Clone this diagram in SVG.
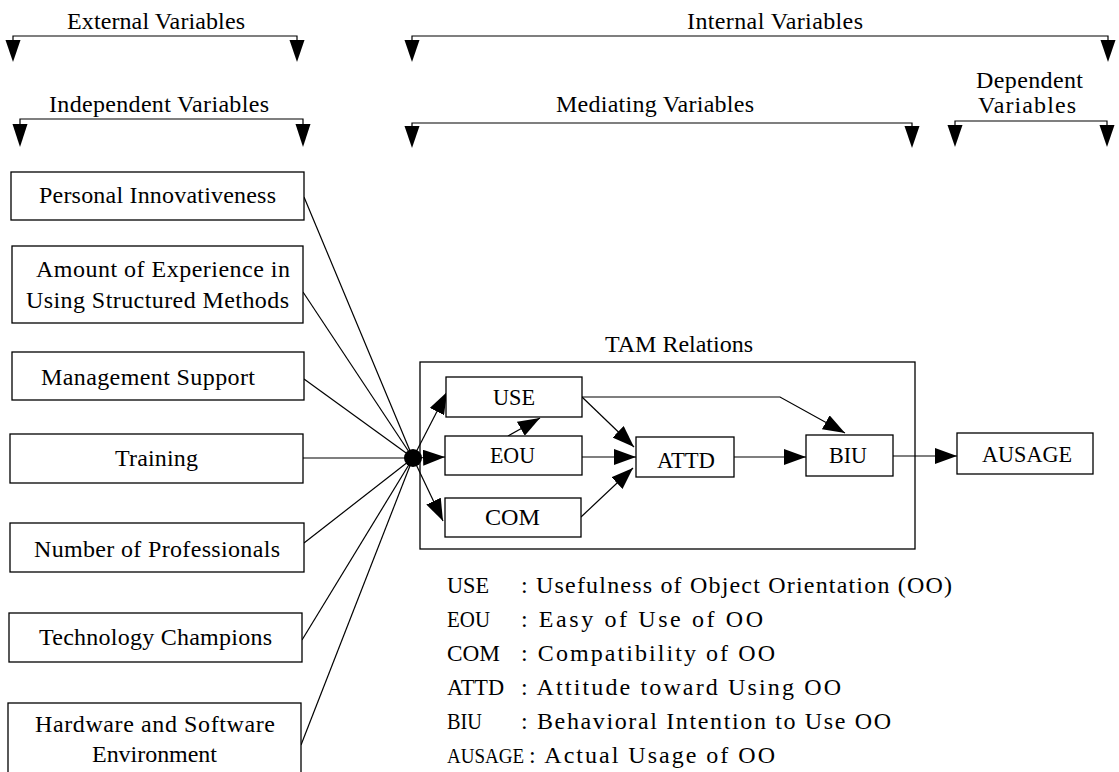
<svg xmlns="http://www.w3.org/2000/svg" width="1119" height="772" viewBox="0 0 1119 772">
<defs>
<style>
text{font-family:"Liberation Serif","Times New Roman",serif;font-size:24px;fill:#000}
.box{fill:#fff;stroke:#000;stroke-width:1.3}
.ln{fill:none;stroke:#000;stroke-width:1.2}
.ah{fill:#000}
</style>
<marker id="arr" markerUnits="userSpaceOnUse" markerWidth="22" markerHeight="16" refX="22" refY="8" orient="auto">
<path d="M0,0 L22,8 L0,16 z" fill="#000"/>
</marker>
</defs>
<rect width="1119" height="772" fill="#fff"/>

<g id="headers">
<text x="67" y="29" textLength="178" lengthAdjust="spacing">External Variables</text>
<path class="ln" d="M13,41 V36 H297 V41"/>
<polygon class="ah" points="5.5,40 20.5,40 13,62"/>
<polygon class="ah" points="289.5,40 304.5,40 297,62"/>

<text x="687" y="29" textLength="176" lengthAdjust="spacing">Internal Variables</text>
<path class="ln" d="M412,41 V36 H1108 V41"/>
<polygon class="ah" points="404.5,40 419.5,40 412,62"/>
<polygon class="ah" points="1100.5,40 1115.5,40 1108,62"/>

<text x="49" y="112" textLength="220" lengthAdjust="spacing">Independent Variables</text>
<path class="ln" d="M20,125 V119 H303 V125"/>
<polygon class="ah" points="12.5,124 27.5,124 20,147"/>
<polygon class="ah" points="295.5,124 310.5,124 303,147"/>

<text x="556" y="112" textLength="198" lengthAdjust="spacing">Mediating Variables</text>
<path class="ln" d="M412,127 V123 H912 V127"/>
<polygon class="ah" points="404.5,126 419.5,126 412,148"/>
<polygon class="ah" points="904.5,126 919.5,126 912,148"/>

<text x="976" y="88" textLength="107" lengthAdjust="spacing">Dependent</text>
<text x="978" y="113" textLength="98" lengthAdjust="spacing">Variables</text>
<path class="ln" d="M955,126 V121 H1107 V126"/>
<polygon class="ah" points="947.5,125 962.5,125 955,147"/>
<polygon class="ah" points="1099.5,125 1114.5,125 1107,147"/>
</g>

<g id="connectors">
<line class="ln" x1="304" y1="197" x2="413" y2="458"/>
<line class="ln" x1="303" y1="292" x2="413" y2="458"/>
<line class="ln" x1="304" y1="379" x2="413" y2="458"/>
<line class="ln" x1="303" y1="458" x2="413" y2="458"/>
<line class="ln" x1="304" y1="543" x2="413" y2="458"/>
<line class="ln" x1="302" y1="640" x2="413" y2="458"/>
<line class="ln" x1="301" y1="745" x2="413" y2="458"/>
<circle cx="413" cy="458" r="9" fill="#000"/>
<line class="ln" x1="413" y1="458" x2="447" y2="392" marker-end="url(#arr)"/>
<line class="ln" x1="413" y1="458" x2="445" y2="457" marker-end="url(#arr)"/>
<line class="ln" x1="413" y1="458" x2="443" y2="521" marker-end="url(#arr)"/>
<line class="ln" x1="508" y1="436" x2="540" y2="418" marker-end="url(#arr)"/>
<line class="ln" x1="582" y1="397" x2="634" y2="447" marker-end="url(#arr)"/>
<line class="ln" x1="582" y1="457" x2="636" y2="457" marker-end="url(#arr)"/>
<line class="ln" x1="581" y1="517" x2="633" y2="468" marker-end="url(#arr)"/>
<polyline class="ln" points="582,397 780,397 845,433" marker-end="url(#arr)"/>
<line class="ln" x1="734" y1="457" x2="806" y2="457" marker-end="url(#arr)"/>
<line class="ln" x1="893" y1="456" x2="957" y2="456" marker-end="url(#arr)"/>
</g>

<g id="personal-innovativeness">
<rect class="box" x="11" y="172" width="293" height="48"/>
<text x="39" y="203" textLength="237" lengthAdjust="spacing">Personal Innovativeness</text>
</g>
<g id="amount-of-experience">
<rect class="box" x="12" y="246" width="291" height="77"/>
<text x="36" y="277" textLength="254" lengthAdjust="spacing">Amount of Experience in</text>
<text x="26" y="308" textLength="263" lengthAdjust="spacing">Using Structured Methods</text>
</g>
<g id="management-support">
<rect class="box" x="12" y="352" width="292" height="48"/>
<text x="41" y="385" textLength="214" lengthAdjust="spacing">Management Support</text>
</g>
<g id="training">
<rect class="box" x="10" y="434" width="293" height="49"/>
<text x="115" y="466" textLength="83" lengthAdjust="spacing">Training</text>
</g>
<g id="number-of-professionals">
<rect class="box" x="10" y="523" width="294" height="49"/>
<text x="34" y="557" textLength="246" lengthAdjust="spacing">Number of Professionals</text>
</g>
<g id="technology-champions">
<rect class="box" x="9" y="613" width="293" height="49"/>
<text x="39" y="645" textLength="233" lengthAdjust="spacing">Technology Champions</text>
</g>
<g id="hardware-software">
<rect class="box" x="8" y="703" width="293" height="80"/>
<text x="35" y="732" textLength="240" lengthAdjust="spacing">Hardware and Software</text>
<text x="92" y="762" textLength="125" lengthAdjust="spacing">Environment</text>
</g>

<g id="tam-relations">
<rect x="420" y="362" width="495" height="187" fill="none" stroke="#000" stroke-width="1.3"/>
<text x="605" y="352" textLength="148" lengthAdjust="spacing">TAM Relations</text>
</g>
<g id="use">
<rect class="box" x="446" y="377" width="136" height="40"/>
<text x="493" y="405" textLength="42" lengthAdjust="spacingAndGlyphs">USE</text>
</g>
<g id="eou">
<rect class="box" x="445" y="436" width="137" height="39"/>
<text x="490" y="463" textLength="45" lengthAdjust="spacingAndGlyphs">EOU</text>
</g>
<g id="com">
<rect class="box" x="445" y="498" width="136" height="39"/>
<text x="485" y="525" textLength="55" lengthAdjust="spacingAndGlyphs">COM</text>
</g>
<g id="attd">
<rect class="box" x="636" y="437" width="98" height="40"/>
<text x="657" y="468" textLength="58" lengthAdjust="spacingAndGlyphs">ATTD</text>
</g>
<g id="biu">
<rect class="box" x="806" y="435" width="87" height="41"/>
<text x="829" y="463" textLength="38" lengthAdjust="spacingAndGlyphs">BIU</text>
</g>
<g id="ausage">
<rect class="box" x="957" y="433" width="136" height="41"/>
<text x="982" y="462" textLength="90" lengthAdjust="spacingAndGlyphs">AUSAGE</text>
</g>

<g id="legend">
<text x="447" y="593" textLength="42" lengthAdjust="spacingAndGlyphs">USE</text>
<text x="521" y="593" textLength="431" lengthAdjust="spacing">: Usefulness of Object Orientation (OO)</text>
<text x="447" y="627" textLength="43" lengthAdjust="spacingAndGlyphs">EOU</text>
<text x="521" y="627" textLength="242" lengthAdjust="spacing">: Easy of Use of OO</text>
<text x="447" y="661" textLength="53" lengthAdjust="spacingAndGlyphs">COM</text>
<text x="521" y="661" textLength="254" lengthAdjust="spacing">: Compatibility of OO</text>
<text x="447" y="695" textLength="57" lengthAdjust="spacingAndGlyphs">ATTD</text>
<text x="521" y="695" textLength="320" lengthAdjust="spacing">: Attitude toward Using OO</text>
<text x="447" y="729" textLength="35" lengthAdjust="spacingAndGlyphs">BIU</text>
<text x="521" y="729" textLength="370" lengthAdjust="spacing">: Behavioral Intention to Use OO</text>
<text x="447" y="763" style="font-size:20px" textLength="77" lengthAdjust="spacingAndGlyphs">AUSAGE</text>
<text x="529" y="763" textLength="246" lengthAdjust="spacing">: Actual Usage of OO</text>
</g>
</svg>
